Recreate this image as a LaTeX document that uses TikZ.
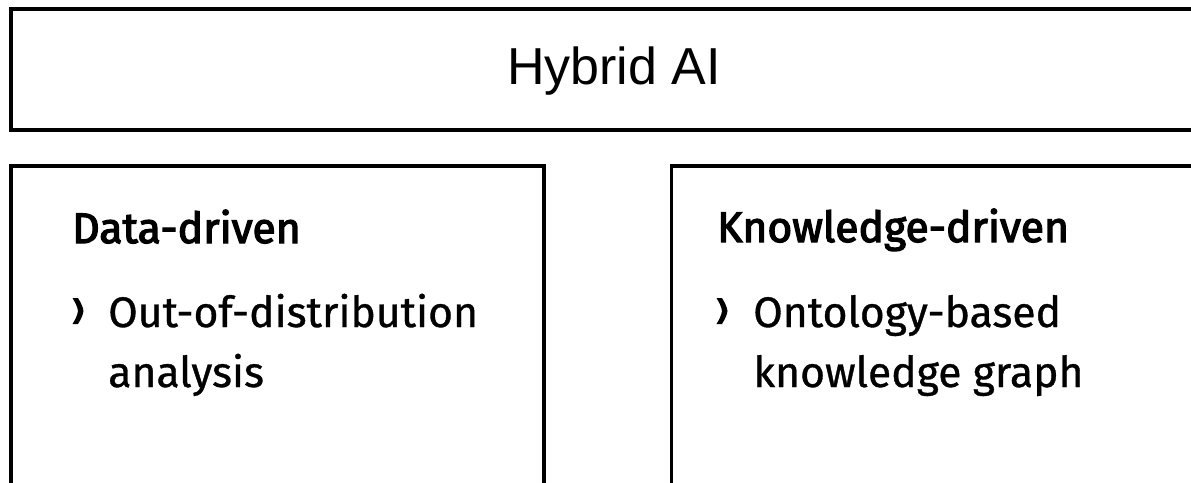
\documentclass[tikz,border=0pt]{standalone}
\usepackage{fontspec}
\setmainfont{Fira Sans}
\newfontfamily\hybfont{Liberation Sans}
\newfontfamily\headfont{Fira Sans}[FakeBold=3]
\newfontfamily\itemfont{Fira Sans}[FakeBold=0.8]
\begin{document}
\begin{tikzpicture}[x=0.75pt,y=-0.75pt,
  frame/.style={draw=black,line width=2.6pt},
  title/.style={font=\hybfont\fontsize{39}{45}\selectfont,inner sep=0pt,anchor=base},
  head/.style={font=\headfont\fontsize{32}{45}\selectfont,inner sep=0pt,anchor=base west},
  item/.style={font=\itemfont\fontsize{32}{45}\selectfont,inner sep=0pt,anchor=base west,align=left},
  bulletmark/.style={fill=black}]
\useasboundingbox (0,0) rectangle (1191,482);
\clip (0,0) rectangle (1191,482);
% boxes
\draw[frame] (1220,9) -- (11,9) -- (11,130) -- (1220,130);
\draw[frame] (11,520) -- (11,166) -- (544,166) -- (544,520);
\draw[frame] (671.5,520) -- (671.5,166) -- (1220,166);
% texts
\node[title] (hyb) at (614,84) {Hybrid AI};
\node[head] (dd) at (72,243) {Data-driven};
\node[head] (kd) at (717,242) {Knowledge-driven};
\node[item] (ood) at (108,387) {Out-of-distribution\\analysis};
\node[item] (onto) at (753,387) {Ontology-based\\knowledge graph};
% bullets
\fill[bulletmark] (72.5,298) -- (78,298) .. controls (81,303) and (83,307) .. (83.5,311)
  .. controls (83,315) and (81,319) .. (78,324) -- (72.5,324)
  .. controls (75.5,319) and (77.5,315) .. (78,311) .. controls (77.5,307) and (75.5,303) .. cycle;
\fill[bulletmark] (716.5,298) -- (722,298) .. controls (725,303) and (727,307) .. (727.5,311)
  .. controls (727,315) and (725,319) .. (722,324) -- (716.5,324)
  .. controls (719.5,319) and (721.5,315) .. (722,311) .. controls (721.5,307) and (719.5,303) .. cycle;
\end{tikzpicture}
\end{document}
